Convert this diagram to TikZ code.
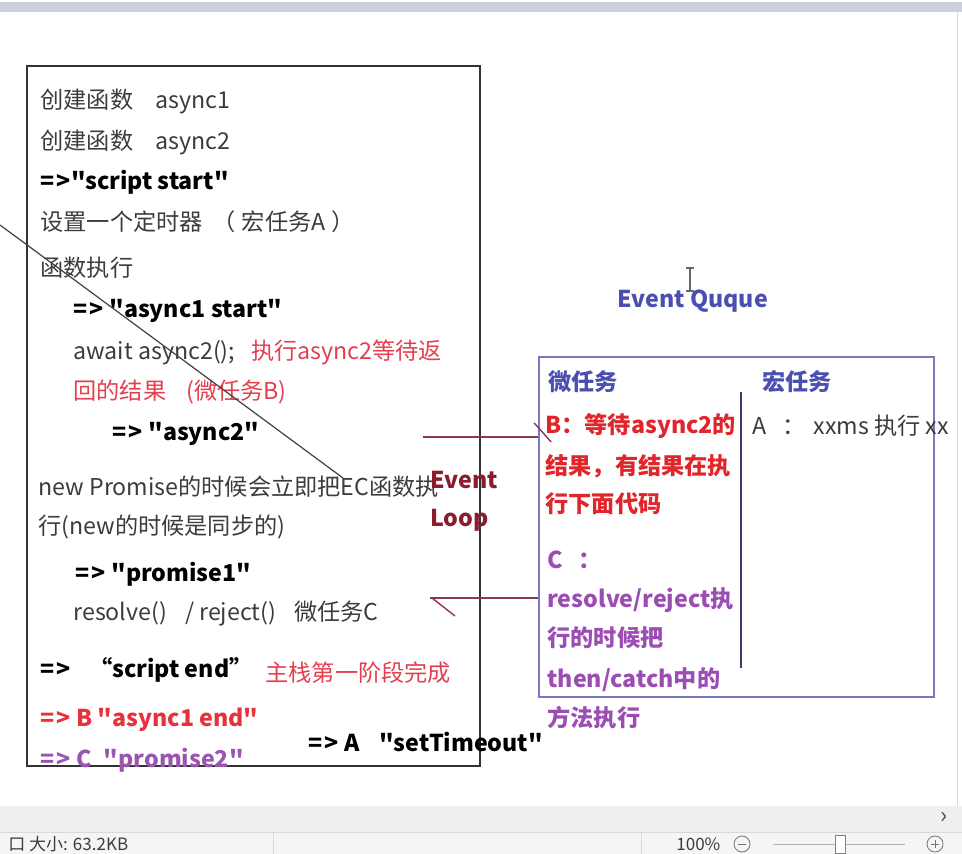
\documentclass[tikz,border=0pt]{standalone}
\usepackage{fontspec}
\setmainfont{Noto Sans CJK SC}[Ligatures=TeXOff]
\usetikzlibrary{fit}
\definecolor{txtgray}{HTML}{3C3C3C}
\definecolor{annored}{HTML}{E2404F}
\definecolor{endred}{HTML}{E5323C}
\definecolor{endpurple}{HTML}{9A55B0}
\definecolor{loopred}{HTML}{8A1C2C}
\definecolor{queueblue}{HTML}{4B4FB2}
\definecolor{queueline}{HTML}{7A78C0}
\definecolor{microred}{HTML}{E0262A}
\definecolor{micropurple}{HTML}{9B4DB4}
\definecolor{linkred}{HTML}{8E3552}
\definecolor{divline}{HTML}{3C3C6C}
\definecolor{barfill}{HTML}{EFEFEF}
\definecolor{topbar}{HTML}{CDD0DA}
\newcommand{\arr}{=\kern1.2pt>}

\begin{document}
\begin{tikzpicture}[x=0.5pt,y=-0.5pt,
  every node/.style={inner sep=0pt,anchor=west,font=\fontsize{11.6}{14}\selectfont},
  plain/.style={text=txtgray},
  strong/.style={text=black,font=\fontsize{11.6}{14}\selectfont\bfseries},
  redstrong/.style={text=endred,font=\fontsize{11.6}{14}\selectfont\bfseries},
  status/.style={text=txtgray,font=\fontsize{8.5}{10}\selectfont},
  box/.style={draw,anchor=center,inner sep=0pt},
  loopline/.style={linkred,line width=0.7pt}]
\clip (0,0) rectangle (962,854);
\useasboundingbox (0,0) rectangle (962,854);
% window chrome
\fill[topbar] (0,2) rectangle (962,12);
\draw[black!15] (957,12) -- (957,806);
\fill[barfill] (0,806) rectangle (962,832);
\draw[black!15] (0,832.5) -- (962,832.5);
\fill[black!4] (0,833) rectangle (962,854);
\node[text=black!70] (next) at (940,818) {›};
\node[status] (size) at (8,844) {口 大小: 63.2KB};
\draw[black!15] (273,833) -- (273,854) (641,833) -- (641,854);
\node[status] (zoom) at (676,844) {100\%};
\draw[black!55] (742,844) circle (8) (935,844) circle (8);
\draw[black!55] (738,844) -- (746,844) (931,844) -- (939,844) (935,840) -- (935,848);
\draw[black!30] (773,844) -- (905,844);
\draw[black!50,fill=white] (835,835) rectangle (845,853);
% main stack
\node[box,draw=black!80,line width=0.8pt,fit={(27,66) (480,766)}] (stack) {};
\node[plain] (f1) at (40,101) {创建函数\hspace{11pt}async1};
\node[plain] (f2) at (40,142) {创建函数\hspace{11pt}async2};
\node[strong] (s1) at (40,182) {\arr"script start"};
\node[plain] (t1) at (40,222) {设置一个定时器\hspace{5pt}（\hspace{3pt}宏任务A\hspace{3pt}）};
\node[plain] (run) at (40,268) {函数执行};
\node[strong] (s2) at (73,311) {\arr\ "async1 start"};
\node[plain] (aw) at (73,352) {await async2();\hspace{8pt}\textcolor{annored}{执行async2等待返}};
\node[text=annored] (aw2) at (73,392) {回的结果\hspace{10pt}(微任务B)};
\node[strong] (s3) at (112,434) {\arr\ "async2"};
\node[plain] (np1) at (38,487) {new Promise的时候会立即把EC函数执};
\node[plain] (np2) at (38,527) {行(new的时候是同步的)};
\node[strong] (s4) at (75,574) {\arr\ "promise1"};
\node[plain] (res) at (73,614) {resolve()\hspace{9pt}/ reject()\hspace{9pt}微任务C};
\node[strong] (s5) at (40,670) {\arr\hspace{9pt}“script end”};
\node[text=annored] (done) at (265,673) {主栈第一阶段完成};
\node[redstrong] (s6) at (40,720) {\arr\ B "async1 end"};
\node[strong,text=endpurple] (s7) at (40,760) {\arr\ C\hspace{6pt}"promise2"};
\node[strong] (s8) at (308,742) {\arr\ A\hspace{10pt}"setTimeout"};
\coordinate (d0) at (0,225);
\coordinate (d1) at (343,478);
\draw[black!75,line width=0.6pt] (d0) -- (d1);
% event loop
\node[strong,text=loopred] (ev) at (430,480) {Event};
\node[strong,text=loopred] (lp) at (430,520) {Loop};
% event queue
\draw[black!60,line width=0.6pt] (686,268) -- (694,268) (690,268) -- (690,291) (686,291) -- (694,291);
\node[strong,text=queueblue] (eq) at (617,301) {Event Quque};
\node[box,draw=queueline,line width=0.8pt,fit={(539,357) (934,697)}] (queue) {};
\node[strong,text=queueblue] (micro) at (548,382) {微任务};
\node[strong,text=queueblue] (macro) at (762,382) {宏任务};
\coordinate (divtop) at (741,392);
\coordinate (divbot) at (741,668);
\draw[divline,line width=0.7pt] (divtop) -- (divbot);
\node[strong,text=microred] (b1) at (545,426) {B：等待async2的};
\node[strong,text=microred] (b2) at (545,466) {结果，有结果在执};
\node[strong,text=microred] (b3) at (545,504) {行下面代码};
\node[strong,text=micropurple] (c1) at (547,560) {C\hspace{8pt}：};
\node[strong,text=micropurple] (c2) at (547,600) {resolve/reject执};
\node[strong,text=micropurple] (c3) at (547,638) {行的时候把};
\node[strong,text=micropurple] (c4) at (547,680) {then/catch中的};
\node[strong,text=micropurple] (c5) at (547,718) {方法执行};
\node[plain] (a1) at (752,426) {A\hspace{8pt}：\hspace{4pt}xxms 执行 xx};
% links
\coordinate (bstart) at (423,437);
\draw[loopline] (bstart) -- (bstart -| queue.west);
\draw[loopline] (bstart -| queue.west) ++(-4,-14) -- ++(17,19);
\coordinate (cstart) at (430,598);
\draw[loopline] (cstart) -- (cstart -| queue.west);
\draw[loopline] (cstart) ++(2,0) -- ++(23,18);
\end{tikzpicture}
\end{document}
